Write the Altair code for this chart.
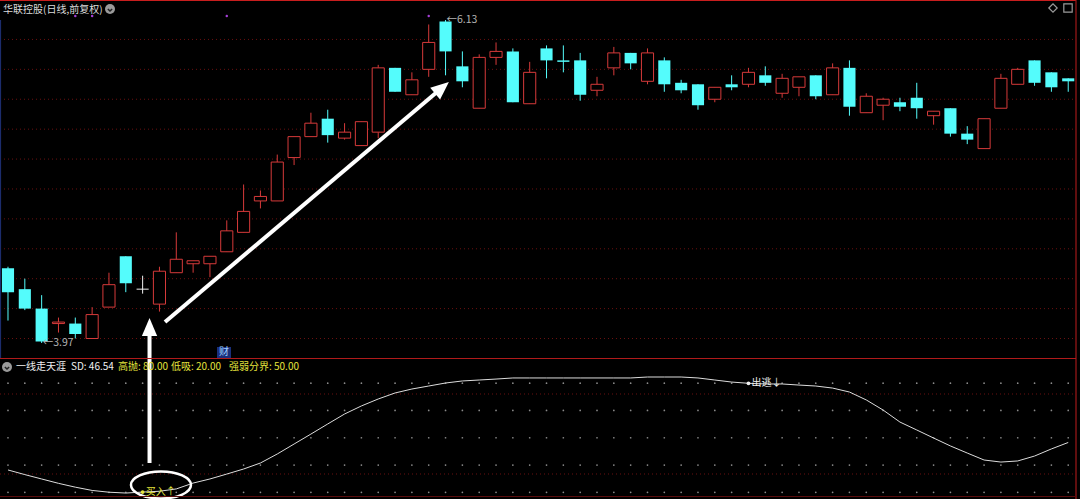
import altair as alt
import pandas as pd

# ---- daily bars (price, yuan) ----
opens = [4.47, 4.33, 4.20, 4.10, 4.10, 4.00, 4.21, 4.55, 4.33, 4.23,
         4.44, 4.50, 4.50, 4.58, 4.71, 4.92, 4.92, 5.21, 5.35, 5.47,
         5.34, 5.29, 5.38, 5.81, 5.63, 5.80, 6.12, 5.82, 5.54, 5.88,
         5.92, 5.57, 5.94, 5.86, 5.86, 5.66, 5.81, 5.91, 5.72, 5.86,
         5.71, 5.70, 5.60, 5.70, 5.70, 5.76, 5.64, 5.68, 5.76, 5.63,
         5.81, 5.51, 5.56, 5.58, 5.61, 5.49, 5.54, 5.37, 5.27, 5.54,
         5.70, 5.86, 5.78, 5.74]
highs = [4.48, 4.40, 4.29, 4.14, 4.14, 4.21, 4.44, 4.55, 4.42, 4.48,
         4.71, 4.52, 4.55, 4.79, 5.03, 4.99, 5.23, 5.35, 5.51, 5.53,
         5.44, 5.45, 5.83, 5.81, 5.78, 6.10, 6.13, 5.92, 5.90, 5.98,
         5.94, 5.85, 5.96, 5.96, 5.91, 5.75, 5.95, 5.91, 5.94, 5.88,
         5.73, 5.70, 5.68, 5.76, 5.81, 5.82, 5.77, 5.75, 5.76, 5.84,
         5.86, 5.64, 5.61, 5.61, 5.71, 5.52, 5.54, 5.42, 5.47, 5.77,
         5.81, 5.86, 5.78, 5.74]
lows = [4.12, 4.19, 3.97, 4.04, 4.00, 4.00, 4.21, 4.31, 4.30, 4.18,
        4.44, 4.44, 4.41, 4.58, 4.71, 4.87, 4.92, 5.16, 5.35, 5.31,
        5.33, 5.29, 5.34, 5.65, 5.63, 5.75, 5.76, 5.68, 5.54, 5.83,
        5.58, 5.57, 5.74, 5.78, 5.59, 5.62, 5.76, 5.80, 5.70, 5.65,
        5.64, 5.53, 5.58, 5.66, 5.68, 5.69, 5.61, 5.62, 5.60, 5.63,
        5.49, 5.51, 5.46, 5.52, 5.47, 5.43, 5.35, 5.30, 5.27, 5.54,
        5.70, 5.69, 5.65, 5.65]
closes = [4.31, 4.20, 3.98, 4.11, 4.03, 4.16, 4.36, 4.37, 4.33, 4.45,
          4.53, 4.52, 4.55, 4.72, 4.85, 4.95, 5.18, 5.35, 5.44, 5.36,
          5.38, 5.45, 5.81, 5.65, 5.73, 5.98, 5.92, 5.72, 5.88, 5.92,
          5.58, 5.78, 5.86, 5.85, 5.63, 5.70, 5.91, 5.84, 5.91, 5.70,
          5.66, 5.56, 5.68, 5.68, 5.78, 5.71, 5.74, 5.75, 5.62, 5.81,
          5.55, 5.62, 5.60, 5.55, 5.54, 5.52, 5.37, 5.33, 5.47, 5.74,
          5.80, 5.71, 5.68, 5.72]

# ---- "一线走天涯" oscillator (SD) ----
sd_line = [26.4, 23.0, 19.8, 16.6, 13.8, 11.4, 10.1, 9.5, 10.2, 10.8,
           12.5, 16.8, 19.8, 23.4, 27.1, 31.5, 38.1, 45.4, 52.7, 60.1,
           67.4, 73.3, 78.4, 82.8, 85.7, 87.9, 90.1, 91.6, 92.3, 93.0,
           93.8, 93.8, 93.8, 93.8, 93.8, 93.8, 93.8, 93.8, 94.5, 94.5,
           94.5, 93.8, 92.3, 90.8, 89.9, 89.4, 89.4, 88.6, 87.9, 86.4,
           83.5, 77.7, 70.3, 61.5, 55.7, 49.8, 44.0, 38.8, 33.7, 32.2,
           33.0, 36.6, 41.8, 46.54]

grid_prices = [4.0, 4.2, 4.4, 4.6, 4.8, 5.0, 5.2, 5.4, 5.6, 5.8, 6.0]
dot_levels = [90, 70, 50, 30, 10]
event_bars = [4, 5, 13, 25]
buy_bar, sell_bar = 8, 44
low_bar, high_bar = 2, 26

RED, CYAN, WHITE = "#d63a3a", "#54fcfc", "#f0f0f0"
YELLOW = "#e4e43c"
FONT = "Noto Sans CJK SC"
W, H = 1080, 499

n = len(opens)
bars = pd.DataFrame({"i": range(n), "open": opens, "high": highs,
                     "low": lows, "close": closes})
bars["kind"] = ["up" if c > o else ("down" if c < o else "flat")
                for o, c in zip(opens, closes)]
bars["lo"] = bars[["open", "close"]].min(axis=1)
bars["hi"] = bars[["open", "close"]].max(axis=1)
bars["x0"] = bars["i"] - 0.36
bars["x1"] = bars["i"] + 0.36

xs = alt.Scale(domain=[-0.475, 63.7], nice=False, zero=False)
ps = alt.Scale(domain=[2.9268, 6.2637], nice=False, zero=False)
osc = alt.Scale(domain=[5.128, 370.7], nice=False, zero=False)
kind_color = alt.Color("kind:N", legend=None,
                       scale=alt.Scale(domain=["up", "down", "flat"],
                                       range=[RED, CYAN, WHITE]))


def X(f):
    return alt.X(f, type="quantitative", scale=xs, axis=None)


def Y(f):
    return alt.Y(f, type="quantitative", scale=ps, axis=None)


def YO(f):
    return alt.Y(f, type="quantitative", scale=osc, axis=None)


def PX(f):
    return alt.X(f, type="quantitative", scale=None, axis=None)


def PY(f):
    return alt.Y(f, type="quantitative", scale=None, axis=None)


# price grid
grid = alt.Chart(pd.DataFrame({"p": grid_prices})).mark_rule(
    color="#6a1010", strokeDash=[1, 3], strokeWidth=1
).encode(y=Y("p"), x=alt.value(0), x2=alt.value(1075))

# oscillator panel grid
osc_grid = alt.Chart(pd.DataFrame({"y": [394, 474]})).mark_rule(
    color="#6a1010", strokeDash=[1, 3], strokeWidth=1
).encode(y=PY("y"), x=alt.value(0), x2=alt.value(1075))

dots = pd.DataFrame([(i, v) for v in dot_levels for i in range(n)], columns=["i", "v"])
dot_rows = alt.Chart(dots).mark_point(
    filled=True, size=3, color="#8a8a8a", opacity=1
).encode(x=X("i"), y=YO("v"))

wicks = alt.Chart(bars).mark_rule(strokeWidth=1).encode(
    x=X("i"), y=Y("low"), y2=alt.Y2("high"), color=kind_color)

down_body = alt.Chart(bars).transform_filter("datum.kind == 'down'").mark_rect(
    color=CYAN).encode(x=X("x0"), x2=alt.X2("x1"), y=Y("lo"), y2=alt.Y2("hi"))

up_body = alt.Chart(bars).transform_filter("datum.kind == 'up'").mark_rect(
    fill="#000000", stroke=RED, strokeWidth=1
).encode(x=X("x0"), x2=alt.X2("x1"), y=Y("lo"), y2=alt.Y2("hi"))

flat_body = alt.Chart(bars).transform_filter("datum.kind == 'flat'").mark_rule(
    color=WHITE, strokeWidth=1
).encode(x=X("x0"), x2=alt.X2("x1"), y=Y("close"))

# extreme price labels
ext = pd.DataFrame({"i": [low_bar, high_bar],
                    "p": [lows[low_bar], highs[high_bar]],
                    "t": ["←" + f"{lows[low_bar]:.2f}", "←" + f"{highs[high_bar]:.2f}"]})
ext_txt = alt.Chart(ext).mark_text(
    align="left", baseline="middle", fontSize=10.5, font=FONT, color="#b4b4b4", dx=1
).encode(x=X("i"), y=Y("p"), text="t:N")

# event markers along the top
ev = alt.Chart(pd.DataFrame({"i": event_bars})).mark_point(
    shape="circle", filled=True, size=6, color="#a640d8", opacity=1
).encode(x=X("i"), y=alt.value(16))

# oscillator curve
osc_df = pd.DataFrame({"i": range(n), "v": sd_line})
curve = alt.Chart(osc_df).mark_line(color="#dcdcdc", strokeWidth=1).encode(
    x=X("i"), y=YO("v"))

sig = pd.DataFrame({"i": [buy_bar, sell_bar],
                    "v": [sd_line[buy_bar], sd_line[sell_bar]],
                    "t": ["买入↑", "出逃↓"], "c": ["buy", "sell"]})
sig_color = alt.Color("c:N", legend=None,
                      scale=alt.Scale(domain=["buy", "sell"], range=[YELLOW, WHITE]))
sig_dot = alt.Chart(sig).mark_point(filled=True, size=14, opacity=1).encode(
    x=X("i"), y=YO("v"), color=sig_color)
sig_txt = alt.Chart(sig).mark_text(
    align="left", baseline="middle", fontSize=10, font=FONT, dx=3
).encode(x=X("i"), y=YO("v"), text="t:N", color=sig_color)

# annotation arrows (in price coordinates)
shafts = pd.DataFrame({"x": [8.41, 9.33], "x2": [8.41, 25.79],
                       "y": [3.168, 4.110], "y2": [4.077, 5.677]})
shaft = alt.Chart(shafts).mark_rule(color="#ffffff", strokeWidth=4).encode(
    x=X("x"), x2=alt.X2("x2"), y=Y("y"), y2=alt.Y2("y2"))
heads = pd.DataFrame({"x": [8.41, 25.79], "y": [4.077, 5.677], "a": [0, 49.8]})
head = alt.Chart(heads).mark_point(
    shape="M0,-1L0.85,1L-0.85,1Z", size=324, filled=True, color="#ffffff", opacity=1
).encode(x=X("x"), y=Y("y"), angle=alt.Angle("a:Q", scale=None))

ring = alt.Chart(pd.DataFrame({"x": [9.09], "v": [15.4]})).mark_point(
    shape="M-1,0A1,0.45,0,1,1,1,0A1,0.45,0,1,1,-1,0Z", size=3600,
    filled=False, color="#ffffff", strokeWidth=2.5, opacity=1
).encode(x=X("x"), y=YO("v"))

# frame lines
frame = alt.Chart(pd.DataFrame({
    "x": [0, 1076, 0, 0, 0.5], "x2": [1076, 1076, 1076, 1076, 0.5],
    "y": [0.5, 0, 358.5, 496.5, 20], "y2": [0.5, 499, 358.5, 496.5, 358],
    "c": ["#c81e1e", "#a01818", "#b01a1a", "#5a0c0c", "#1c2c6c"]})).mark_rule(
    strokeWidth=1.2).encode(
    x=PX("x"), x2="x2:Q", y=PY("y"), y2="y2:Q", color=alt.Color("c:N", scale=None))

# headers
title = alt.Chart(pd.DataFrame({"t": ["华联控股(日线,前复权)"]})).mark_text(
    align="left", baseline="middle", fontSize=10, font=FONT, color="#dcdcdc"
).encode(x=alt.value(3), y=alt.value(10), text="t:N")

legend_df = pd.DataFrame({
    "t": ["一线走天涯", "SD: 46.54", "高抛: 80.00", "低吸: 20.00", "强弱分界: 50.00"],
    "x": [16, 71, 118, 171, 229],
    "c": [WHITE, WHITE, YELLOW, YELLOW, YELLOW]})
legend = alt.Chart(legend_df).mark_text(
    align="left", baseline="middle", fontSize=10, font=FONT
).encode(x=PX("x"), y=alt.value(367), text="t:N", color=alt.Color("c:N", scale=None))

icons = alt.Chart(pd.DataFrame({"x": [110, 7], "y": [9, 367]})).mark_point(
    shape="circle", filled=True, size=100, color="#9a9a9a", opacity=1
).encode(x=PX("x"), y=PY("y"))
chev = alt.Chart(pd.DataFrame({"x": [110, 7], "y": [10, 368]})).mark_point(
    shape="M-1,-0.5L0,0.5L1,-0.5", size=18, filled=False, color="#202020",
    strokeWidth=1.5, opacity=1
).encode(x=PX("x"), y=PY("y"))

tools = alt.Chart(pd.DataFrame({"x": [1053, 1068], "y": [8, 8],
                                "s": ["diamond", "square"]})).mark_point(
    filled=False, size=70, color="#9a9a9a", strokeWidth=1.2, opacity=1
).encode(x=PX("x"), y=PY("y"), shape=alt.Shape("s:N", scale=None))

cai_box = alt.Chart(pd.DataFrame({"x": [217], "x2": [231], "y": [347], "y2": [358]})).mark_rect(
    color="#1a2f7a").encode(x=PX("x"), x2="x2:Q", y=PY("y"), y2="y2:Q")
cai = alt.Chart(pd.DataFrame({"t": ["财"]})).mark_text(
    align="center", baseline="middle", fontSize=10, font=FONT, color="#9fd0ff"
).encode(x=alt.value(224), y=alt.value(352), text="t:N")

chart = alt.layer(
    grid, osc_grid, dot_rows, wicks, down_body, up_body, flat_body, ext_txt, ev,
    curve, ring, sig_dot, sig_txt, shaft, head,
    frame, title, legend, icons, chev, tools, cai_box, cai
).resolve_scale(y="independent", x="independent", color="independent",
                shape="independent").properties(
    width=W, height=H, background="#000000", padding=0,
    autosize=alt.AutoSizeParams(type="none")
).configure_view(stroke=None)

chart.save("out.html", embed_options={"renderer": "svg", "actions": False})
